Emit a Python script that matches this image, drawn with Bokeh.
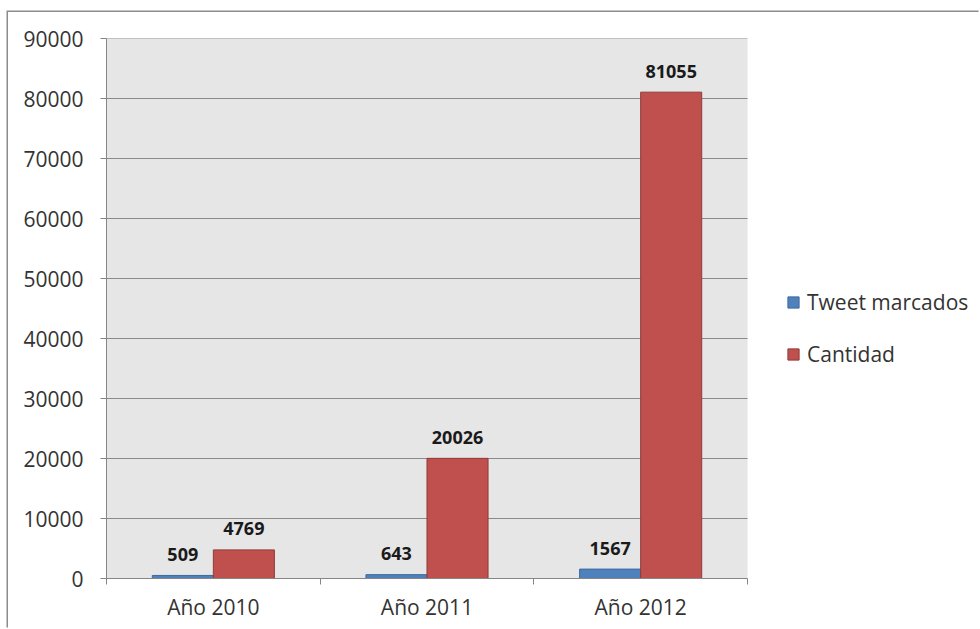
from bokeh.plotting import figure
from bokeh.models import (ColumnDataSource, Range1d, FixedTicker, Legend, LegendItem,
                          NumeralTickFormatter)
from bokeh.transform import dodge
from bokeh.core.properties import value
from bokeh.embed import file_html
from bokeh.resources import INLINE

# ---- data ----
categories = ["Año 2010", "Año 2011", "Año 2012"]
series_names = ["Tweet marcados", "Cantidad"]
tweet_marcados = [509, 643, 1567]
cantidad = [4769, 20026, 81055]
y_ticks = [0, 10000, 20000, 30000, 40000, 50000, 60000, 70000, 80000, 90000]

BLUE = "#4F81BD"
RED = "#C0504D"
FONT = "Open Sans"

n = len(categories)
centers = [i + 0.5 for i in range(n)]
bar_w = 1 / 3.5  # Excel gap width 150%

# layout (canvas is offset by 8,12 for the outer chart frame)
W, H = 972, 617
BL, BT, BB = 98, 26, 51
area_px = 641  # width of the plotting area in pixels
frame_w = W - BL
x_end = n * frame_w / area_px

src = ColumnDataSource(dict(
    x=centers,
    t=tweet_marcados,
    c=cantidad,
    tl=[str(v) for v in tweet_marcados],
    cl=[str(v) for v in cantidad],
))

p = figure(width=W, height=H,
           x_range=Range1d(0, x_end), y_range=Range1d(0, y_ticks[-1]),
           output_backend="svg", toolbar_location=None,
           min_border_left=BL, min_border_right=0,
           min_border_top=BT, min_border_bottom=BB)
p.margin = (12, 0, 0, 8)
p.styles = {"box-shadow": "-1.5px -1.5px 0 0 #8c8c8c"}
p.background_fill_color = "white"
p.border_fill_color = "white"
p.outline_line_color = None

# plot area background and gridlines
p.quad(left=0, right=n, bottom=y_ticks[0], top=y_ticks[-1],
       fill_color="#E6E6E6", line_color=None)
p.segment(x0=[0] * len(y_ticks), x1=[n] * len(y_ticks), y0=y_ticks, y1=y_ticks,
          line_color="#8a8a8a", line_width=1)

# bars
r1 = p.vbar(x=dodge("x", -bar_w / 2, range=p.x_range), top="t", width=bar_w, source=src,
            fill_color=BLUE, line_color="#3C6A9E", line_width=1)
r2 = p.vbar(x=dodge("x", bar_w / 2, range=p.x_range), top="c", width=bar_w, source=src,
            fill_color=RED, line_color="#8E3B39", line_width=1)

# data labels
for col, lab, off in (("t", "tl", -bar_w / 2), ("c", "cl", bar_w / 2)):
    p.text(x=dodge("x", off, range=p.x_range), y=col, text=lab, source=src,
           text_font=value(FONT), text_font_style="bold", text_font_size="18px",
           text_color="#1a1a1a", text_align="center", text_baseline="middle",
           y_offset=-21)

# axes
xa = p.xaxis[0]
xa.bounds = (0, n)
xa.ticker = FixedTicker(ticks=centers, minor_ticks=list(range(n + 1)))
xa.major_label_overrides = {c: name for c, name in zip(centers, categories)}
xa.major_tick_line_color = None
xa.major_tick_out = 6
xa.minor_tick_in = 0
xa.minor_tick_out = 6
xa.minor_tick_line_color = "#868686"
xa.axis_line_color = "#868686"
xa.major_label_text_font = FONT
xa.major_label_text_font_size = "21px"
xa.major_label_text_color = "#333333"
xa.major_label_standoff = 8

ya = p.yaxis[0]
ya.ticker = FixedTicker(ticks=y_ticks, minor_ticks=[])
ya.formatter = NumeralTickFormatter(format="0")
ya.major_tick_in = 0
ya.major_tick_out = 6
ya.major_tick_line_color = "#868686"
ya.axis_line_color = "#868686"
ya.major_label_text_font = FONT
ya.major_label_text_font_size = "21px"
ya.major_label_text_color = "#333333"
ya.major_label_standoff = 17

p.xgrid.visible = False
p.ygrid.visible = False

# legend
legend = Legend(items=[LegendItem(label=series_names[0], renderers=[r1]),
                       LegendItem(label=series_names[1], renderers=[r2])],
                location=(680, 210), orientation="vertical",
                border_line_color=None, background_fill_alpha=0,
                padding=0, margin=0, spacing=24,
                glyph_width=14, glyph_height=14, label_standoff=7,
                label_text_font=FONT, label_text_font_size="21px",
                label_text_color="#333333")
p.add_layout(legend, "center")

open("out.html", "w").write(file_html(p, INLINE))
